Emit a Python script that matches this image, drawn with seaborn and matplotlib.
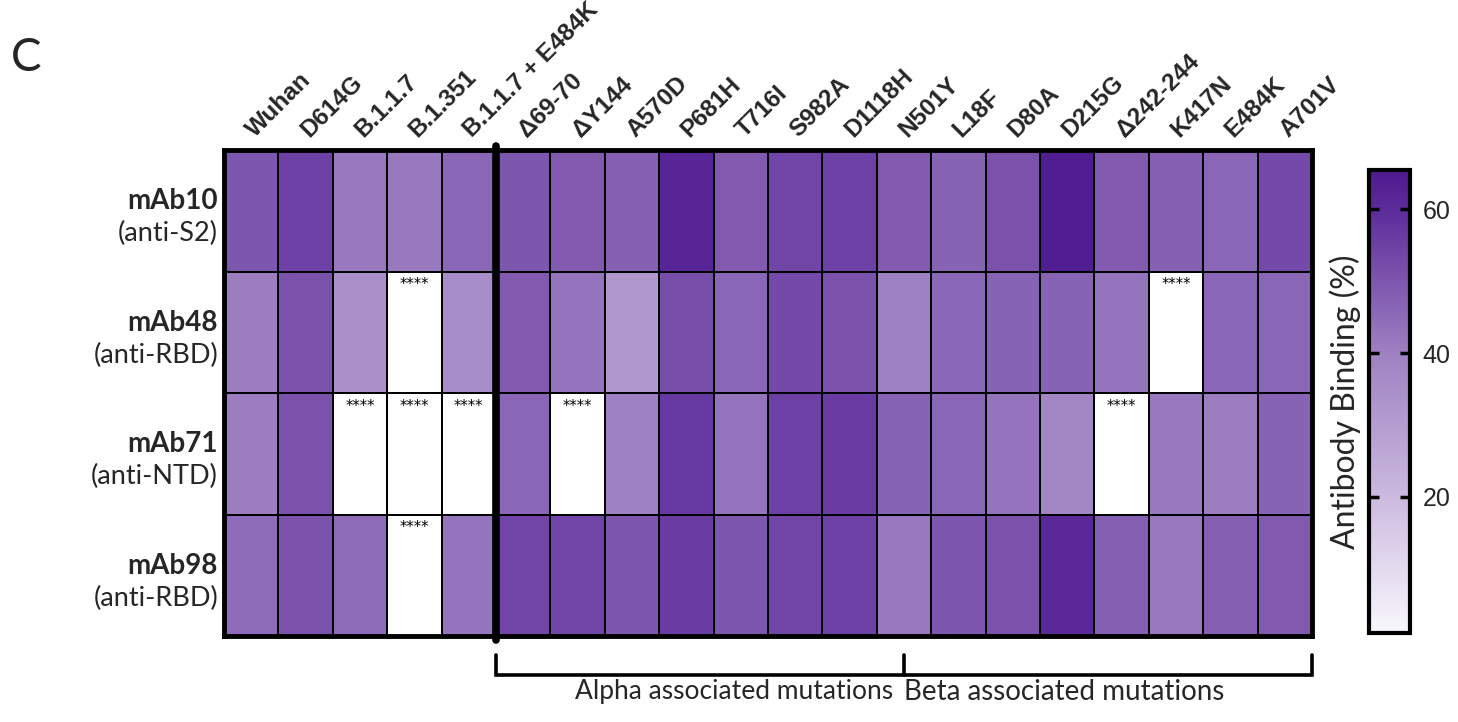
import numpy as np
import pandas as pd
import matplotlib
matplotlib.use("Agg")
import matplotlib.pyplot as plt
import matplotlib.transforms as mtransforms
import seaborn as sns
from matplotlib.colors import LinearSegmentedColormap

# ---------------- data ----------------
variants = ["Wuhan", "D614G", "B.1.1.7", "B.1.351", "B.1.1.7 + E484K"]
alpha_muts = ["Δ69-70", "ΔY144", "A570D", "P681H", "T716I", "S982A", "D1118H", "N501Y"]
beta_muts = ["L18F", "D80A", "D215G", "Δ242-244", "K417N", "E484K", "A701V"]
columns = variants + alpha_muts + beta_muts

antibodies = ["mAb10", "mAb48", "mAb71", "mAb98"]
targets = ["(anti-S2)", "(anti-RBD)", "(anti-NTD)", "(anti-RBD)"]

mAb10 = [50, 55, 42, 42, 46, 50, 49, 48, 62, 49, 54, 55, 49, 47, 51, 64, 49, 48, 46, 53]
mAb48 = [41, 51, 35, 0, 36, 49, 43, 32, 52, 46, 53, 51, 40, 46, 47, 47, 43, 0, 46, 46]
mAb71 = [41, 51, 0, 0, 0, 46, 0, 40, 57, 43, 55, 56, 47, 46, 43, 38, 0, 42, 41, 47]
mAb98 = [45, 51, 45, 0, 43, 54, 54, 50, 56, 50, 54, 55, 42, 50, 51, 61, 48, 42, 48, 49]

# significance flags (1 = "****")
sig10 = [0] * 20
sig48 = [0, 0, 0, 1, 0, 0, 0, 0, 0, 0, 0, 0, 0, 0, 0, 0, 0, 1, 0, 0]
sig71 = [0, 0, 1, 1, 1, 0, 1, 0, 0, 0, 0, 0, 0, 0, 0, 0, 1, 0, 0, 0]
sig98 = [0, 0, 0, 1, 0, 0, 0, 0, 0, 0, 0, 0, 0, 0, 0, 0, 0, 0, 0, 0]

cbar_ticks = [20, 40, 60]
cmap_colors = ["#f8f7fc", "#cab8de", "#9f82c2", "#5e2d9c", "#4e1a8e"]
cmap_stops = [0.0, 0.30, 0.60, 0.91, 1.0]
vmin, vmax = 1, 65.5

# ---------------- build ----------------
df = pd.DataFrame([mAb10, mAb48, mAb71, mAb98], index=antibodies, columns=columns)
sig = np.array([sig10, sig48, sig71, sig98])

cmap = LinearSegmentedColormap.from_list("purp", list(zip(cmap_stops, cmap_colors)))
cmap.set_under("#fefefe")

sns.set_style("white")
plt.rcParams["font.family"] = ["Lato", "DejaVu Sans"]

W, H = 1458, 722
fig = plt.figure(figsize=(W / 100, H / 100), dpi=100)
ax = fig.add_axes([224 / W, 1 - 636 / H, (1312 - 224) / W, (636 - 150) / H])
cax = fig.add_axes([1369 / W, 1 - 633 / H, 41 / W, 463 / H])

sns.heatmap(df, ax=ax, cbar_ax=cax, cmap=cmap, vmin=vmin, vmax=vmax,
            linewidths=1.4, linecolor="black",
            cbar_kws={"ticks": cbar_ticks})

# outer frame
for s in ax.spines.values():
    s.set_visible(True)
    s.set_linewidth(3.5)
    s.set_color("black")

# x labels on top
ax.xaxis.tick_top()
ax.set_xticks(np.arange(len(columns)) + 0.5)
ax.set_xticklabels(columns, rotation=45, ha="left", va="bottom",
                   rotation_mode="anchor", fontsize=17.5, fontweight="bold",
                   family=["Liberation Sans", "DejaVu Sans"])
ax.tick_params(axis="x", length=0, pad=5)
offset = mtransforms.ScaledTranslation(7 / 100, 2 / 100, fig.dpi_scale_trans)
for lab in ax.get_xticklabels():
    lab.set_transform(lab.get_transform() + offset)

# y labels (two-line, bold name + target)
ax.set_yticks([])
ax.set_ylabel("")
ax.set_xlabel("")
for i, (name, tgt) in enumerate(zip(antibodies, targets)):
    ax.text(-0.11, i + 0.5 - 0.08, name, ha="right", va="center",
            fontsize=20, fontweight="bold", clip_on=False)
    ax.text(-0.11, i + 0.5 + 0.19, tgt, ha="right", va="center",
            fontsize=19.5, clip_on=False)

# significance stars
for i in range(sig.shape[0]):
    for j in range(sig.shape[1]):
        if sig[i, j]:
            ax.text(j + 0.5, i + 0.11, "****", ha="center", va="center",
                    fontsize=10.5, family="DejaVu Sans", color="black")

# thick separator after the variants
split = len(variants)
ax.plot([split, split], [-0.03, len(antibodies) + 0.03], color="black",
        lw=5.5, solid_capstyle="round", clip_on=False, zorder=5)

# brackets for alpha / beta mutation groups
n_rows = len(antibodies)
a0 = split
mid = split + len(alpha_muts) - 0.5   # centre of N501Y (shared)
b1 = len(columns)
yb, yt = n_rows + 0.32, n_rows + 0.16
ax.plot([a0, a0, b1, b1], [yt, yb, yb, yt], color="black", lw=2.6,
        clip_on=False, solid_joinstyle="miter")
ax.plot([mid, mid], [yt, yb], color="black", lw=2.6, clip_on=False)
ax.text(mid - 0.2, n_rows + 0.46, "Alpha associated mutations", ha="right",
        va="center", fontsize=19, clip_on=False)
ax.text(mid + 0.0, n_rows + 0.46, "Beta associated mutations", ha="left",
        va="center", fontsize=20, clip_on=False)

# colorbar styling
cbar = ax.collections[0].colorbar
cbar.outline.set_linewidth(3)
cbar.outline.set_edgecolor("black")
cax.set_axisbelow(False)
cax.tick_params(axis="y", direction="in", left=True, right=True, length=7,
                width=2.5, labelsize=18, pad=9, color="black")
for t in cax.get_yticklabels():
    t.set_family(["Liberation Sans", "DejaVu Sans"])
cax.set_ylabel("Antibody Binding (%)", fontsize=23)
cax.yaxis.set_label_position("left")
cax.yaxis.labelpad = 6

# panel letter
fig.text(11 / W, 1 - 58 / H, "C", fontsize=33, va="center", ha="left")

fig.savefig("out.png", dpi=100)
